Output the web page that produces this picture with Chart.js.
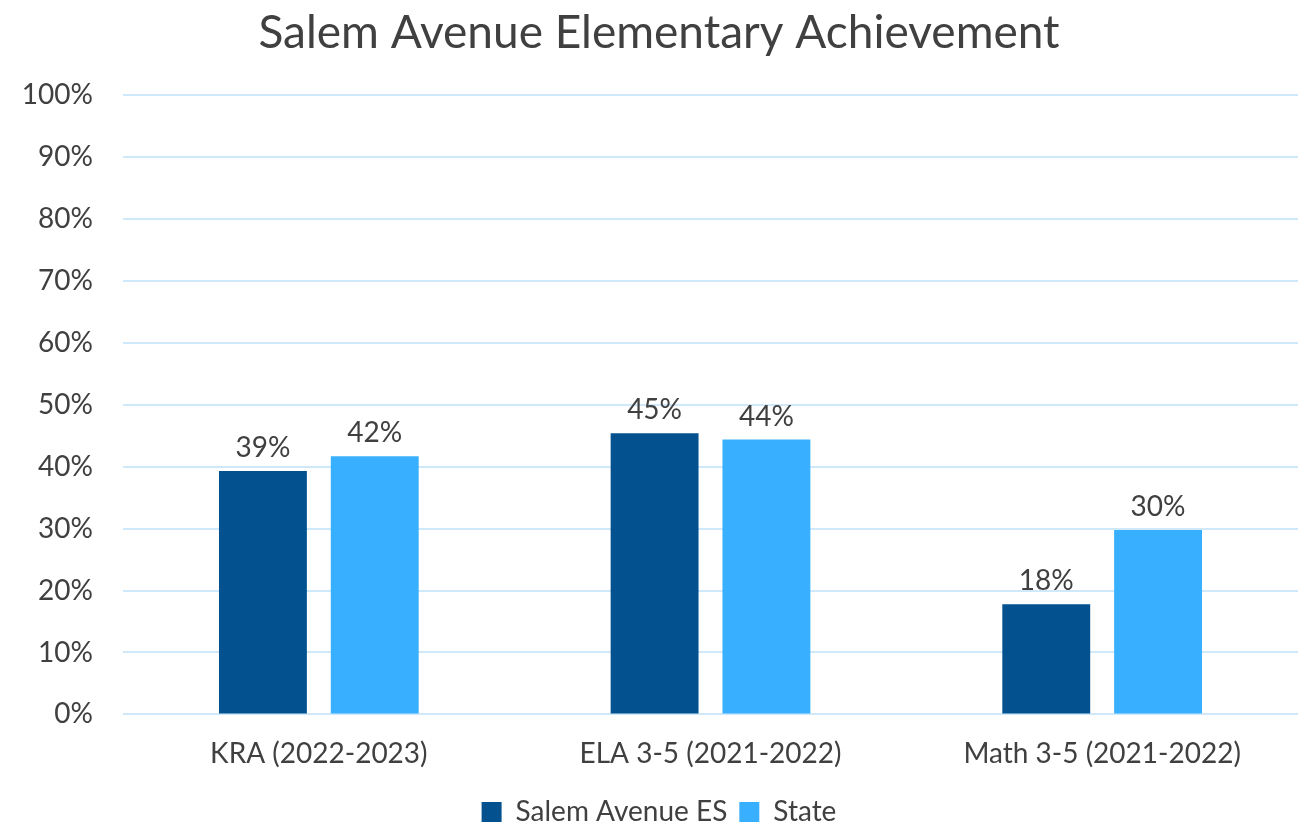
<!DOCTYPE html>
<html>
<head>
<meta charset="utf-8">
<script src="https://cdn.jsdelivr.net/npm/chart.js@4.4.0/dist/chart.umd.min.js"></script>
<style>
  html, body { margin: 0; padding: 0; background: #fff; }
  #wrap { width: 1307px; height: 836px; }
</style>
</head>
<body>
<div id="wrap"><canvas id="achievementChart"></canvas></div>
<script>
// dados do gráfico
const categories = ['KRA (2022-2023)', 'ELA 3-5 (2021-2022)', 'Math 3-5 (2021-2022)'];
const schoolValues = [39.3, 45.4, 17.8];
const stateValues = [41.7, 44.4, 29.8];
const seriesNames = ['Salem Avenue ES', 'State'];
const chartTitle = 'Salem Avenue Elementary Achievement';

const FONT = "Lato, 'Open Sans', sans-serif";
const TEXT_COLOR = '#404040';

// rótulos em cima das barras
const barLabels = {
    id: 'barLabels',
    afterDatasetsDraw(chart) {
        const ctx = chart.ctx;
        ctx.save();
        ctx.font = '28px ' + FONT;
        ctx.fillStyle = TEXT_COLOR;
        ctx.textAlign = 'center';
        ctx.textBaseline = 'bottom';
        chart.data.datasets.forEach((ds, i) => {
            chart.getDatasetMeta(i).data.forEach((bar, j) => {
                ctx.fillText(Math.round(ds.data[j]) + '%', bar.x, bar.y - 9);
            });
        });
        ctx.restore();
    }
};

new Chart(document.getElementById('achievementChart'), {
    type: 'bar',
    data: {
        labels: categories,
        datasets: [
            { label: seriesNames[0], data: schoolValues, backgroundColor: '#03528F', categoryPercentage: 0.571, barPercentage: 0.786 },
            { label: seriesNames[1], data: stateValues, backgroundColor: '#38B0FF', categoryPercentage: 0.571, barPercentage: 0.786 }
        ]
    },
    options: {
        responsive: true,
        maintainAspectRatio: false,
        animation: false,
        layout: { padding: { left: 20, right: 9, top: 0, bottom: 0 } },
        scales: {
            x: {
                grid: { display: false },
                border: { display: false },
                ticks: { color: TEXT_COLOR, font: { family: FONT, size: 28 }, padding: 15 }
            },
            y: {
                min: 0, max: 100,
                grid: { color: '#CFE8FA', lineWidth: 2, drawTicks: false },
                border: { display: false },
                ticks: { stepSize: 10, color: TEXT_COLOR, font: { family: FONT, size: 28 }, padding: 30, callback: v => v + '%' },
                afterFit: scale => { scale.width = 103; }
            }
        },
        plugins: {
            title: { display: true, text: chartTitle, color: TEXT_COLOR, font: { family: FONT, size: 46, weight: 'normal' }, padding: { top: 6, bottom: 34 } },
            legend: {
                position: 'bottom',
                labels: { color: TEXT_COLOR, font: { family: FONT, size: 28 }, boxWidth: 20, boxHeight: 20, padding: 12 }
            },
            tooltip: { enabled: false }
        }
    },
    plugins: [barLabels]
});
</script>
</body>
</html>
